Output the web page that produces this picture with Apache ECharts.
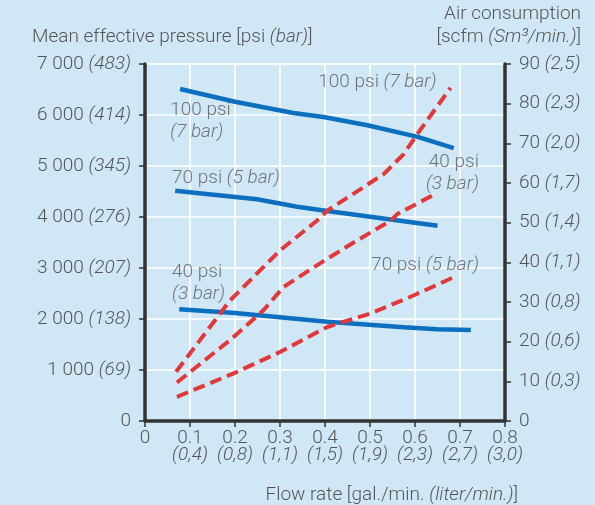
<!DOCTYPE html>
<html><head><meta charset="utf-8">
<script src="https://cdn.jsdelivr.net/npm/echarts@6/dist/echarts.min.js"></script>
<style>html,body{margin:0;padding:0;background:#d0e8f6}#c{width:595px;height:505px}</style>
</head><body><div id="c"></div>
<script>
const xTicks = ['0','0.1','0.2','0.3','0.4','0.5','0.6','0.7','0.8'];
const xTicksLiter = ['','(0,4)','(0,8)','(1,1)','(1,5)','(1,9)','(2,3)','(2,7)','(3,0)'];
const psiTicks = ['0','1 000','2 000','3 000','4 000','5 000','6 000','7 000'];
const barTicks = ['','(69)','(138)','(207)','(276)','(345)','(414)','(483)'];
const scfmTicks = ['0','10','20','30','40','50','60','70','80','90'];
const sm3Ticks = ['','(0,3)','(0,6)','(0,8)','(1,1)','(1,4)','(1,7)','(2,0)','(2,3)','(2,5)'];

// Mean effective pressure (psi), left axis
const mep100 = [[0.078,6510],[0.2,6260],[0.33,6040],[0.40,5955],[0.494,5800],[0.606,5570],[0.686,5350]];
const mep70 = [[0.067,4516],[0.249,4347],[0.338,4202],[0.405,4118],[0.65,3829]];
const mep40 = [[0.076,2190],[0.2,2118],[0.405,1947],[0.575,1837],[0.65,1798],[0.724,1784]];
// Air consumption (scfm), right axis
const air100 = [[0.069,12.4],[0.189,30.4],[0.30,43],[0.382,50.5],[0.405,53],[0.531,62.3],[0.575,67.3],[0.605,72.3],[0.679,84]];
const air40 = [[0.071,9.7],[0.189,20.4],[0.263,27.9],[0.308,33.8],[0.405,40.9],[0.471,45.5],[0.546,50.5],[0.561,52.2],[0.638,56.8]];
const air70 = [[0.071,6.1],[0.197,12],[0.30,17.4],[0.405,23.7],[0.501,27.1],[0.598,31.7],[0.683,36.1]];

// Curve annotations: [first line, second line, x, y (psi), align]
const notes = [
  ['100 psi {i|(7 bar)}', '', 0.385, 6647, 'left'],
  ['100 psi', '{i|(7 bar)}', 0.056, 5882, 'left'],
  ['70 psi {i|(5 bar)}', '', 0.060, 4765, 'left'],
  ['40 psi', '{i|(3 bar)}', 0.060, 2696, 'left'],
  ['40 psi', '{i|(3 bar)}', 0.742, 4863, 'right'],
  ['70 psi {i|(5 bar)}', '', 0.742, 3059, 'right']
];

const FONT = 'Roboto';
const FS = 19;
const TXT = '#555555';
const AX = '#333333';
const BLUE = '#0d6fbf';
const RED = '#e0383b';
const rich = {
  i: {fontStyle: 'italic', fontFamily: FONT, fontSize: FS, fontWeight: 300, color: TXT}
};
const tstyle = {fontFamily: FONT, fontWeight: 300, fontSize: FS, color: TXT, rich};

const chart = echarts.init(document.getElementById('c'));
const blueLine = (name, data) => ({
  name, type: 'line', data, yAxisIndex: 0, symbol: 'none', z: 3,
  lineStyle: {color: BLUE, width: 4.5}
});
const redLine = (name, data) => ({
  name, type: 'line', data, yAxisIndex: 1, symbol: 'none', z: 4,
  lineStyle: {color: RED, width: 4, type: [12, 6]}
});

chart.setOption({
  backgroundColor: '#d0e8f6',
  animation: false,
  textStyle: {fontFamily: FONT, fontWeight: 300, color: TXT},
  title: [
    {text: 'Mean effective pressure [psi {i|(bar)}]', left: 27, top: 23, textStyle: tstyle},
    {text: 'Air consumption', right: 9, top: 0, textStyle: tstyle},
    {text: '[scfm {i|(Sm³/min.)}]', right: 9, top: 23, textStyle: tstyle},
    {text: 'Flow rate [gal./min. {i|(liter/min.)}]', right: 72, top: 481, textStyle: tstyle}
  ],
  grid: {left: 145, right: 90, top: 64, bottom: 84},
  xAxis: {
    type: 'value', min: 0, max: 0.8, interval: 0.1,
    axisLine: {lineStyle: {color: AX, width: 3.5}},
    axisTick: {show: true, length: 6, lineStyle: {color: AX, width: 1.5}},
    splitLine: {show: true, lineStyle: {color: '#ffffff', width: 1.5}},
    axisLabel: {
      margin: 9, fontSize: FS, lineHeight: 17, color: TXT, fontFamily: FONT, fontWeight: 300,
      formatter: (v) => { const i = Math.round(v * 10); return xTicksLiter[i] ? xTicks[i] + '\n{i|' + xTicksLiter[i] + '}' : xTicks[i]; },
      rich: {i: {fontStyle: 'italic', fontSize: FS, lineHeight: 17, fontFamily: FONT, fontWeight: 300, color: TXT}}
    }
  },
  yAxis: [
    {
      type: 'value', min: 0, max: 7000, interval: 1000, position: 'left',
      axisLine: {show: true, lineStyle: {color: AX, width: 3.5}},
      axisTick: {show: true, length: 6, lineStyle: {color: AX, width: 1.5}},
      splitLine: {show: true, lineStyle: {color: '#ffffff', width: 1.5}},
      axisLabel: {
        margin: 14, fontSize: FS, color: TXT, fontFamily: FONT, fontWeight: 300,
        formatter: (v) => { const i = Math.round(v / 1000); return barTicks[i] ? psiTicks[i] + ' {i|' + barTicks[i] + '}' : psiTicks[i]; },
        rich
      }
    },
    {
      type: 'value', min: 0, max: 90, interval: 10, position: 'right',
      axisLine: {show: true, lineStyle: {color: AX, width: 3.5}},
      axisTick: {show: true, length: 6, lineStyle: {color: AX, width: 1.5}},
      splitLine: {show: false},
      axisLabel: {
        margin: 14, fontSize: FS, color: TXT, fontFamily: FONT, fontWeight: 300,
        formatter: (v) => { const i = Math.round(v / 10); return sm3Ticks[i] ? scfmTicks[i] + ' {i|' + sm3Ticks[i] + '}' : scfmTicks[i]; },
        rich
      }
    }
  ],
  series: [
    blueLine('MEP 100 psi', mep100),
    blueLine('MEP 70 psi', mep70),
    blueLine('MEP 40 psi', mep40),
    redLine('Air 100 psi', air100),
    redLine('Air 40 psi', air40),
    redLine('Air 70 psi', air70),
    {
      type: 'scatter', yAxisIndex: 0, symbolSize: 0, z: 5, silent: true,
      data: notes.map(n => ({
        value: [n[2], n[3]],
        label: {align: n[4]}
      })),
      label: {
        show: true, position: [0, 0], verticalAlign: 'middle',
        fontSize: FS, lineHeight: 22, color: TXT, fontFamily: FONT, fontWeight: 300,
        formatter: (p) => { const n = notes[p.dataIndex]; return n[1] ? n[0] + '\n' + n[1] : n[0]; },
        rich
      }
    }
  ]
});
</script></body></html>
